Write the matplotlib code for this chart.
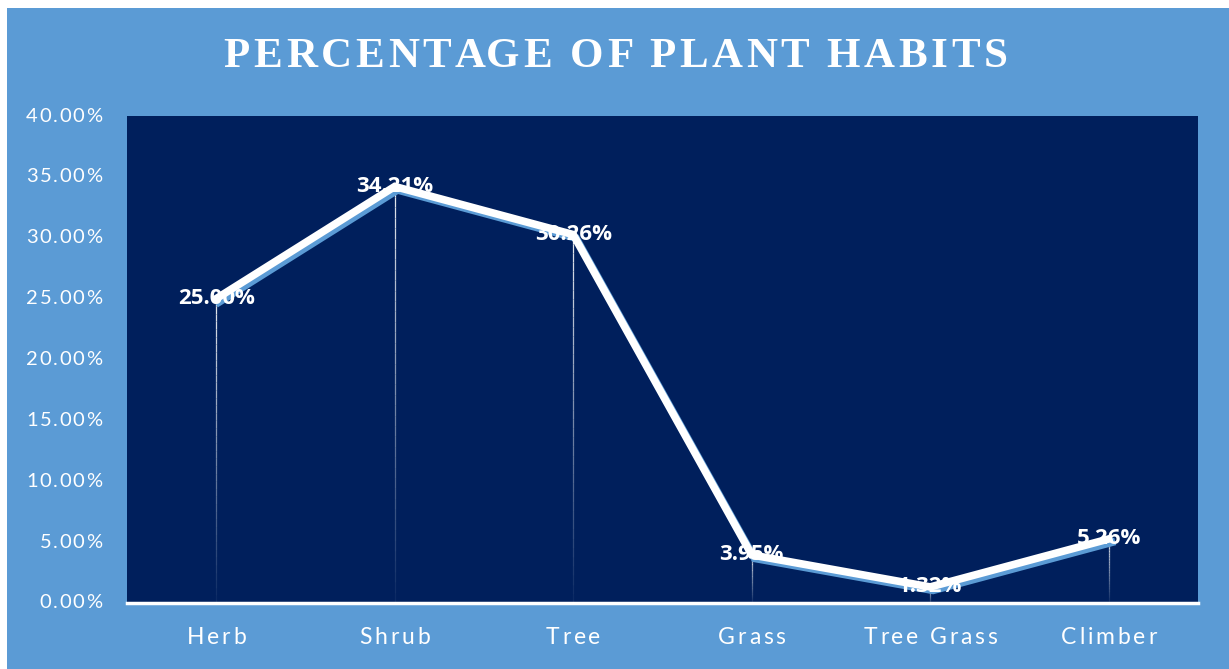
import matplotlib
matplotlib.use("Agg")
import matplotlib.pyplot as plt
import matplotlib.patheffects as pe
from matplotlib.collections import LineCollection
from matplotlib.patches import Rectangle
from matplotlib.font_manager import FontProperties
import numpy as np

categories = ["Herb", "Shrub", "Tree", "Grass", "Tree Grass", "Climber"]
values = [25.00, 34.21, 30.26, 3.95, 1.32, 5.26]
yticks = [0, 5, 10, 15, 20, 25, 30, 35, 40]
title = "PERCENTAGE OF PLANT HABITS"

BG = "#5B9BD5"
NAVY = "#001F5C"

W, H = 1229, 669
fig = plt.figure(figsize=(W / 100, H / 100), dpi=100)
fig.patch.set_facecolor("white")
fig.add_artist(Rectangle((7 / W, 0), 1 - 7 / W, 1 - 8 / H, transform=fig.transFigure,
                         facecolor=BG, edgecolor="none", zorder=-10))

ax = fig.add_axes([127 / W, (H - 603) / H, (1198 - 127) / W, (603 - 116) / H])
ax.set_facecolor(NAVY)
x = np.arange(len(categories))
ax.set_xlim(-0.5, len(categories) - 0.5)
ax.set_ylim(0, 40)

for s in ["top", "left", "right"]:
    ax.spines[s].set_visible(False)
ax.spines["bottom"].set_color("white")
ax.spines["bottom"].set_linewidth(2.5)

# drop lines with fading gradient
nseg = 40
for xi, v in zip(x, values):
    ys = np.linspace(0, v, nseg + 1)
    segs = [[(xi, ys[i]), (xi, ys[i + 1])] for i in range(nseg)]
    alphas = np.linspace(0.05, 0.9, nseg)
    cols = [(1, 1, 1, a) for a in alphas]
    ax.add_collection(LineCollection(segs, colors=cols, linewidths=0.9, zorder=2))

ax.plot(x, values, color="white", lw=5.5, solid_joinstyle="miter", zorder=3,
        path_effects=[pe.SimpleLineShadow(offset=(2, -2.5), shadow_color=BG, alpha=1, rho=1),
                      pe.Normal()])

for xi, v in zip(x, values):
    ax.text(xi, v, f"{v:.2f}%", ha="center", va="center", color="white",
            fontsize=16, fontweight="bold", family="Open Sans", zorder=4)

ax.set_xticks(x)
ax.set_yticks(yticks)
ax.set_xticklabels([])
ax.set_yticklabels([])
ax.tick_params(axis="both", length=0)

renderer = fig.canvas.get_renderer()


def text_w(s, prop):
    if not s:
        return 0.0
    w, _, _ = renderer.get_text_width_height_descent(s + "H", prop, ismath=False)
    wh, _, _ = renderer.get_text_width_height_descent("H", prop, ismath=False)
    return w - wh


def spaced_text(px, py, s, spacing, ha="center", **kw):
    """Draw letter-spaced text at figure pixel coords (px, py from bottom)."""
    prop = FontProperties(family=kw.get("family"), size=kw.get("fontsize"),
                          weight=kw.get("fontweight", "normal"))
    offs = [text_w(s[:i], prop) + i * spacing for i in range(len(s))]
    total = text_w(s, prop) + (len(s) - 1) * spacing
    if ha == "center":
        start = px - total / 2
    elif ha == "right":
        start = px - total
    else:
        start = px
    for ch, o in zip(s, offs):
        if ch == " ":
            continue
        fig.text((start + o) / W, py / H, ch, ha="left", va="center", **kw)


# y tick labels
for t in yticks:
    _, py = ax.transData.transform((0, t))
    spaced_text(102, py, f"{t:.2f}%", 1.6, ha="right", color="white",
                fontsize=14.5, family="Lato")

# x tick labels
for xi, c in zip(x, categories):
    px, _ = ax.transData.transform((xi, 0))
    spaced_text(px, H - 637, c, 2.8, ha="center", color="white",
                fontsize=16.5, family="Lato")

spaced_text(615.5, H - 57, title, 3.6, ha="center", color="white",
            fontsize=31, fontweight="bold", family="Liberation Serif")

fig.savefig("out.png", dpi=100, facecolor=fig.get_facecolor())
